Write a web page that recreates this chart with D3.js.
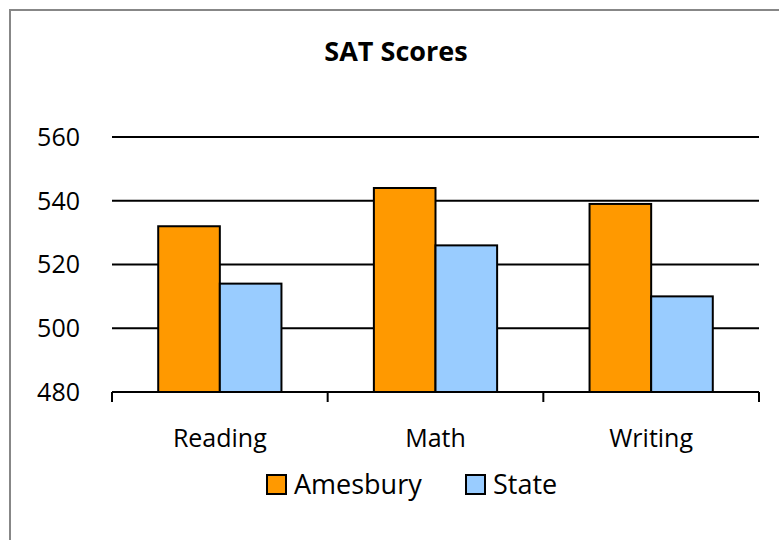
<!DOCTYPE html>
<html>
<head>
<meta charset="utf-8">
<script src="https://cdn.jsdelivr.net/npm/d3@7"></script>
<style>
    body { margin: 0; background: #fff; }
    svg { display: block; font-family: "Open Sans", "Noto Sans", sans-serif; }
</style>
</head>
<body>
<div id="chart"></div>
<script>
"use strict";

var categories = ["Reading", "Math", "Writing"];
var seriesNames = ["Amesbury", "State"];
var amesbury = [532, 544, 539];
var state = [514, 526, 510];
var yTicks = [480, 500, 520, 540, 560];
var colors = ["#ff9900", "#99ccff"];

var W = 779, H = 540;

var svg = d3.select("#chart").append("svg").attr("width", W).attr("height", H);

// outer chart frame (only left and top edges are in view)
svg.append("rect").attr("x", 10).attr("y", 10).attr("width", W + 20).attr("height", H + 20)
    .attr("fill", "#fff").attr("stroke", "#878787").attr("stroke-width", 2);

svg.append("text").attr("x", 396).attr("y", 61).attr("text-anchor", "middle")
    .attr("font-size", 27).attr("font-weight", "bold").text("SAT Scores");

var x0 = d3.scaleBand().domain(categories).range([112, 759]).paddingInner(0).paddingOuter(0);
var x1 = d3.scaleBand().domain(seriesNames).range([0, x0.bandwidth()]).paddingInner(0).paddingOuter(0.75);
var y = d3.scaleLinear().domain([480, 560]).range([392, 137]);

// gridlines
svg.append("g").selectAll("line").data(yTicks.slice(1)).join("line")
    .attr("x1", 112).attr("x2", 759)
    .attr("y1", function (d) { return y(d); }).attr("y2", function (d) { return y(d); })
    .attr("stroke", "#000").attr("stroke-width", 2);

// y labels
svg.append("g").selectAll("text").data(yTicks).join("text")
    .attr("x", 80).attr("y", function (d) { return y(d); }).attr("dy", "0.35em")
    .attr("text-anchor", "end").attr("font-size", 25).text(function (d) { return d; });

var rows = categories.map(function (c, i) {
    return { cat: c, vals: [amesbury[i], state[i]] };
});

var groups = svg.append("g").selectAll("g").data(rows).join("g")
    .attr("transform", function (d) { return "translate(" + x0(d.cat) + ",0)"; });

groups.selectAll("rect").data(function (d) {
    return d.vals.map(function (v, j) { return { name: seriesNames[j], v: v, j: j }; });
}).join("rect")
    .attr("x", function (d) { return x1(d.name); })
    .attr("width", x1.bandwidth())
    .attr("y", function (d) { return y(d.v); })
    .attr("height", function (d) { return y(480) - y(d.v); })
    .attr("fill", function (d) { return colors[d.j]; })
    .attr("stroke", "#000").attr("stroke-width", 2);

// x axis
var gx = svg.append("g").attr("transform", "translate(0,392)");
gx.append("line").attr("x1", 112).attr("x2", 759).attr("stroke", "#000").attr("stroke-width", 2);
var bounds = [112].concat(categories.map(function (c) { return x0(c) + x0.bandwidth(); }));
gx.selectAll(".tk").data(bounds).join("line").attr("class", "tk")
    .attr("x1", function (d) { return d; }).attr("x2", function (d) { return d; })
    .attr("y1", 0).attr("y2", 10).attr("stroke", "#000").attr("stroke-width", 2);
gx.selectAll(".lbl").data(categories).join("text").attr("class", "lbl")
    .attr("x", function (d) { return x0(d) + x0.bandwidth() / 2; }).attr("y", 55)
    .attr("text-anchor", "middle").attr("fill", "#000").attr("font-size", 25).text(function (d) { return d; });

// legend
var legendX = [267, 466];
var lg = svg.append("g").selectAll("g").data(seriesNames).join("g")
    .attr("transform", function (d, i) { return "translate(" + legendX[i] + ",475)"; });
lg.append("rect").attr("width", 19).attr("height", 19)
    .attr("fill", function (d, i) { return colors[i]; }).attr("stroke", "#000").attr("stroke-width", 2);
lg.append("text").attr("x", 27).attr("y", 10).attr("dy", "0.35em")
    .attr("font-size", 27).text(function (d) { return d; });
</script>
</body>
</html>
